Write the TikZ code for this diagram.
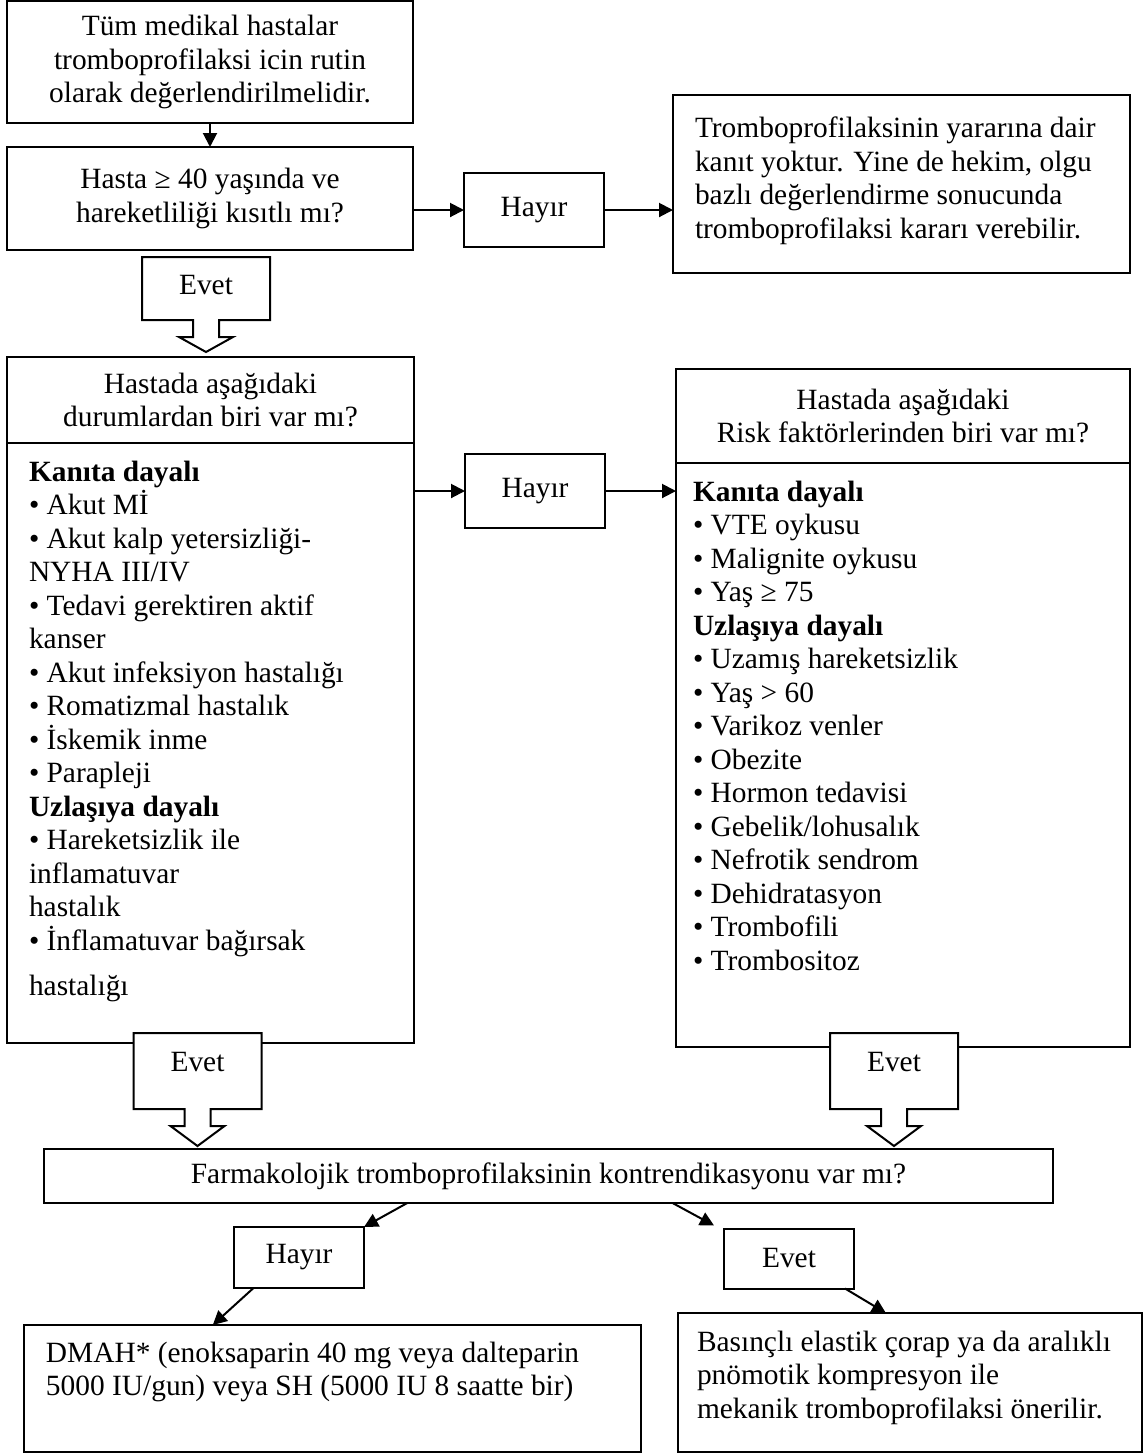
\documentclass[tikz,border=0pt]{standalone}
\usepackage{fontspec}
\setmainfont{Liberation Serif}
\usetikzlibrary{arrows.meta,positioning,calc}

\begin{document}
\begin{tikzpicture}[
  x=.5pt,y=-.5pt,
  font=\fontsize{14.7}{16.75}\selectfont,
  box/.style={draw=black,line width=1pt,fill=white,inner sep=0pt,outer sep=0pt,align=center},
  answer/.style={box,minimum width=70pt,minimum height=37pt},
  yesbox/.style={fill=white,inner sep=0pt,outer sep=0pt,minimum width=64pt},
  arr/.style={-{Triangle[length=7pt,width=7pt]},line width=1pt}
]
\useasboundingbox (0,0) rectangle (1147,1453);

% first question and its "no" branch
\node[box,minimum width=203pt,minimum height=61pt] (start) at (210,62)
  {Tüm medikal hastalar\\tromboprofilaksi icin rutin\\olarak değerlendirilmelidir.};
\node[box,minimum width=203pt,minimum height=51.5pt,text depth=3pt] (agecheck) at (210,198.5)
  {Hasta ≥ 40 yaşında ve\\hareketliliği kısıtlı mı?};
\node[answer] (no1) at (534,210) {Hayır};
\node[box,inner xsep=11pt,inner ysep=11pt] (noevidence) at (901.5,184)
  {\parbox[t][67pt][t]{206.5pt}{\raggedright Tromboprofilaksinin yararına dair\\
   kanıt yoktur. Yine de hekim, olgu\\bazlı değerlendirme sonucunda\\
   tromboprofilaksi kararı verebilir.}};

% the two condition lists
\node[box,minimum width=203.5pt,minimum height=43pt] (condhead) at (210.5,400)
  {Hastada aşağıdaki\\durumlardan biri var mı?};
\node[box,inner xsep=11pt,inner ysep=9pt,below=0pt of condhead] (condbody)
  {\parbox[t][282pt][t]{181.5pt}{\raggedright
   \textbf{Kanıta dayalı}\\
   • Akut Mİ\\
   • Akut kalp yetersizliği-\\
   NYHA III/IV\\
   • Tedavi gerektiren aktif\\
   kanser\\
   • Akut infeksiyon hastalığı\\
   • Romatizmal hastalık\\
   • İskemik inme\\
   • Parapleji\\
   \textbf{Uzlaşıya dayalı}\\
   • Hareketsizlik ile\\
   inflamatuvar\\
   hastalık\\
   • İnflamatuvar bağırsak\\[6pt]
   hastalığı}};
\node[answer] (no2) at (535,491) {Hayır};
\node[box,minimum width=227pt,minimum height=47pt] (riskhead) at (903,416)
  {Hastada aşağıdaki\\Risk faktörlerinden biri var mı?};
\node[box,inner xsep=8.5pt,inner ysep=9pt,below=0pt of riskhead] (riskbody)
  {\parbox[t][274pt][t]{210pt}{\raggedright
   \textbf{Kanıta dayalı}\\
   • VTE oykusu\\
   • Malignite oykusu\\
   • Yaş ≥ 75\\
   \textbf{Uzlaşıya dayalı}\\
   • Uzamış hareketsizlik\\
   • Yaş > 60\\
   • Varikoz venler\\
   • Obezite\\
   • Hormon tedavisi\\
   • Gebelik/lohusalık\\
   • Nefrotik sendrom\\
   • Dehidratasyon\\
   • Trombofili\\
   • Trombositoz}};

% "Evet" callouts, outline drawn over the white fill
\node[yesbox,minimum height=31.5pt,text depth=3.5pt] (yes1) at (206,288.5) {Evet};
\node[yesbox,minimum height=38pt,text depth=9pt] (yes2) at (197.5,1071) {Evet};
\node[yesbox,minimum height=38pt,text depth=9pt] (yes3) at (894,1071) {Evet};
\foreach \c/\d in {yes1/15,yes2/20,yes3/20}
  \draw[line width=1pt] (\c.north west) -- (\c.north east) -- (\c.south east)
    -- ($(\c.south)+(13,0)$) -- ++(0,17) -- ++(14,0) -- ($(\c.south)+(0,17+\d)$)
    -- ($(\c.south)+(-27,17)$) -- ++(14,0) -- ($(\c.south)+(-13,0)$)
    -- (\c.south west) -- cycle;

% contraindication and the two treatments
\node[box,minimum width=504.5pt,minimum height=27pt] (contra) at (548.5,1176)
  {Farmakolojik tromboprofilaksinin kontrendikasyonu var mı?};
\node[answer,minimum width=65pt,minimum height=30.5pt] (no3) at (299,1257.5) {Hayır};
\node[answer,minimum width=65pt,minimum height=30pt] (yes4) at (789,1258.5) {Evet};
\node[box,inner xsep=11pt,inner ysep=8.5pt] (drug) at (332.5,1388.5)
  {\parbox[t][46.5pt][t]{286.5pt}{\raggedright DMAH* (enoksaparin 40 mg veya dalteparin\\
   5000 IU/gun) veya SH (5000 IU 8 saatte bir)}};
\node[box,inner xsep=9.5pt,inner ysep=9pt] (mech) at (910,1382.5)
  {\parbox[t][51.5pt][t]{213pt}{\raggedright Basınçlı elastik çorap ya da aralıklı\\
   pnömotik kompresyon ile\\mekanik tromboprofilaksi önerilir.}};

\draw[arr] (start) -- (agecheck);
\draw[arr] (agecheck.east |- no1) -- (no1);
\draw[arr] (no1) -- (noevidence.west |- no1);
\draw[arr] (condbody.east |- no2) -- (no2);
\draw[arr] (no2) -- (riskbody.west |- no2);
\draw[arr] ($(contra.south west)!.36!(contra.south east)$) -- (no3.north east);
\draw[arr] ($(contra.south west)!.623!(contra.south east)$) -- ($(yes4.north west)+(-10,-3)$);
\draw[arr] ($(no3.south west)!.15!(no3.south east)$) -- ($(drug.north west)!.306!(drug.north east)$);
\draw[arr] ($(yes4.south east)+(-9,0)$) -- ($(mech.north west)!.448!(mech.north east)$);
\end{tikzpicture}
\end{document}
